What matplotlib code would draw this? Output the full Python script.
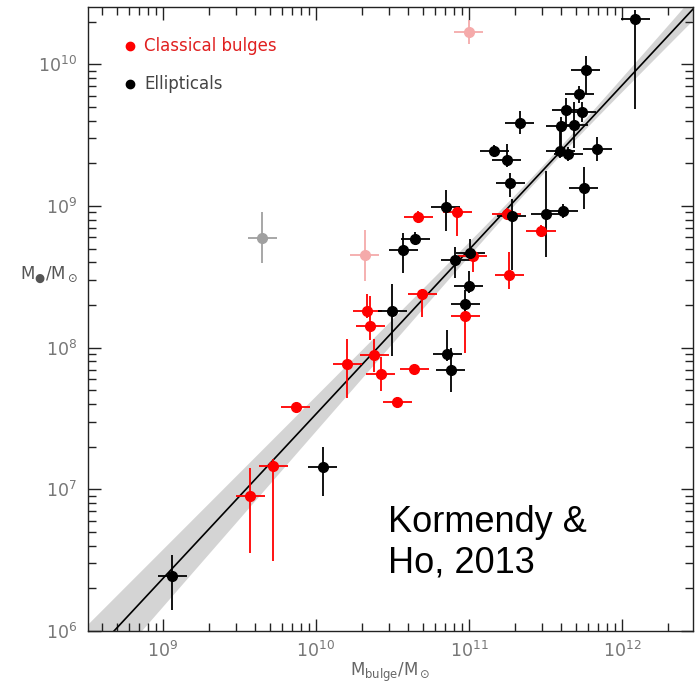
import numpy as np
import matplotlib.pyplot as plt
from matplotlib.ticker import LogLocator, NullFormatter

# Classical bulges (red): M_bulge, M_BH, y error low/high (dex)
bul_x = [4.67e10, 8.4e10, 1.77e11, 2.96e11, 1.83e11, 1.06e11, 4.95e10, 9.47e10, 2.17e10,
         2.26e10, 2.4e10, 1.6e10, 2.66e10, 4.4e10, 3.4e10, 7.41e9, 5.25e9, 3.73e9]
bul_y = [8.36e8, 9.02e8, 8.77e8, 6.65e8, 3.27e8, 4.43e8, 2.38e8, 1.67e8, 1.81e8,
         1.42e8, 8.87e7, 7.66e7, 6.49e7, 7.06e7, 4.11e7, 3.79e7, 1.46e7, 8.98e6]
bul_ylo = [0.04, 0.17, 0.04, 0.04, 0.10, 0.11, 0.16, 0.26, 0.05,
           0.10, 0.12, 0.24, 0.12, 0.03, 0.04, 0.03, 0.67, 0.40]
bul_yhi = [0.04, 0.03, 0.04, 0.04, 0.16, 0.03, 0.04, 0.07, 0.12,
           0.21, 0.11, 0.18, 0.12, 0.03, 0.04, 0.03, 0.05, 0.20]

# Ellipticals (black)
ell_x = [1.22e12, 5.82e11, 5.27e11, 4.33e11, 5.46e11, 4.0e11, 4.86e11, 2.15e11, 6.9e11, 3.96e11,
         4.47e11, 1.47e11, 1.77e11, 1.87e11, 1.9e11, 3.18e11, 4.14e11, 5.65e11, 7.05e10, 4.45e10,
         3.72e10, 1.02e11, 8.15e10, 1.0e11, 9.44e10, 3.16e10, 7.23e10, 7.6e10, 1.11e10, 1.15e9]
ell_y = [2.07e10, 9.06e9, 6.14e9, 4.75e9, 4.63e9, 3.68e9, 3.72e9, 3.86e9, 2.52e9, 2.46e9,
         2.31e9, 2.44e9, 2.11e9, 1.46e9, 8.5e8, 8.77e8, 9.25e8, 1.34e9, 9.82e8, 5.87e8,
         4.89e8, 4.63e8, 4.15e8, 2.74e8, 2.02e8, 1.81e8, 9.02e7, 6.95e7, 1.43e7, 2.45e6]
ell_ylo = [0.63, 0.17, 0.06, 0.10, 0.07, 0.17, 0.16, 0.08, 0.085, 0.05,
           0.05, 0.04, 0.05, 0.10, 0.38, 0.30, 0.05, 0.15, 0.17, 0.03,
           0.16, 0.05, 0.13, 0.05, 0.05, 0.32, 0.05, 0.155, 0.20, 0.24]
ell_yhi = [0.07, 0.10, 0.06, 0.085, 0.07, 0.06, 0.16, 0.08, 0.085, 0.146,
           0.05, 0.04, 0.11, 0.07, 0.12, 0.30, 0.05, 0.15, 0.12, 0.05,
           0.12, 0.10, 0.094, 0.10, 0.10, 0.19, 0.17, 0.155, 0.14, 0.15]

# omitted objects (pink = bulges, gray = other)
pink_x = [1.0e11, 2.09e10]
pink_y = [1.69e10, 4.5e8]
pink_ye = [0.085, 0.18]
gray_x = [4.47e9]
gray_y = [5.97e8]
gray_ye = [0.18]

xerr_dex = 0.095

# fit: M_BH/1e9 = 0.49 (M_bulge/1e11)^1.16
fit_norm = 0.49
fit_slope = 1.16


def errs(x, y, lo, hi, xe):
	x = np.array(x)
	y = np.array(y)
	lo = np.array(lo)
	hi = np.array(hi)
	xerr = [x - x * 10**(-xe), x * 10**xe - x]
	yerr = [y - y * 10**(-lo), y * 10**hi - y]
	return x, y, xerr, yerr


plt.rcParams['font.family'] = ['DejaVu Sans']
fig = plt.figure(figsize=(6.98, 6.87), dpi=100)
ax = fig.add_axes([0.126, 0.0815, 0.867, 0.9085])

# fit line and band
lx = np.linspace(8.3, 12.6, 200)
ly = np.log10(fit_norm) + 9 + fit_slope * (lx - 11)
hw = np.sqrt(0.03**2 + (0.08 * (lx - 11.5))**2)
ax.fill_between(10**lx, 10**(ly - hw), 10**(ly + hw), color='#d4d4d4', lw=0, zorder=1)
ax.plot(10**lx, 10**ly, color='black', lw=1.2, zorder=2)

ekw = dict(fmt='o', ms=7, elinewidth=1.3, capsize=0, zorder=3)

x, y, xe, ye = errs(gray_x, gray_y, gray_ye, gray_ye, xerr_dex)
ax.errorbar(x, y, xerr=xe, yerr=ye, color='#a0a0a0', **ekw)
x, y, xe, ye = errs(pink_x, pink_y, pink_ye, pink_ye, xerr_dex)
ax.errorbar(x, y, xerr=xe, yerr=ye, color='#f5aaaa', **ekw)
x, y, xe, ye = errs(bul_x, bul_y, bul_ylo, bul_yhi, xerr_dex)
ax.errorbar(x, y, xerr=xe, yerr=ye, color='#ff0000', **ekw)
x, y, xe, ye = errs(ell_x, ell_y, ell_ylo, ell_yhi, xerr_dex)
ax.errorbar(x, y, xerr=xe, yerr=ye, color='black', **ekw)

ax.set_xscale('log')
ax.set_yscale('log')
ax.set_xlim(3.24e8, 2.92e12)
ax.set_ylim(1e6, 2.54e10)

for axis in [ax.xaxis, ax.yaxis]:
	axis.set_major_locator(LogLocator(base=10, numticks=20))
	axis.set_minor_locator(LogLocator(base=10, subs=np.arange(2, 10), numticks=20))
	axis.set_minor_formatter(NullFormatter())

ax.tick_params(which='both', direction='in', top=True, right=True, color='#222222')
ax.tick_params(which='major', length=9, width=1.0, labelsize=12.5, labelcolor='#777777')
ax.tick_params(which='minor', length=5.5, width=1.0)
ax.tick_params(axis='x', which='major', pad=7)
ax.tick_params(axis='y', which='major', pad=8)
for s in ax.spines.values():
	s.set_color('#222222')
	s.set_linewidth(1.0)

ax.set_xlabel(r'M$_{\rm bulge}$/M$_\odot$', fontsize=12, color='#666666', labelpad=0)
ax.set_ylabel('M$_{●}$/M$_\\odot$', fontsize=12, color='#555555', rotation=0)
ax.yaxis.set_label_coords(-0.064, 0.555)

# legend
ax.plot([0.069], [0.9375], 'o', ms=6, color='#ff0000', transform=ax.transAxes, clip_on=False)
ax.text(0.093, 0.9375, 'Classical bulges', color='#e02020', fontsize=12,
	transform=ax.transAxes, va='center')
ax.plot([0.069], [0.877], 'o', ms=6, color='black', transform=ax.transAxes, clip_on=False)
ax.text(0.093, 0.877, 'Ellipticals', color='#444444', fontsize=12,
	transform=ax.transAxes, va='center')

fig.text(388 / 698, 1 - 505 / 687, 'Kormendy &\nHo, 2013', fontsize=26,
	family='Liberation Sans', va='top', ha='left', linespacing=1.2)

fig.savefig('out.png', dpi=100)
